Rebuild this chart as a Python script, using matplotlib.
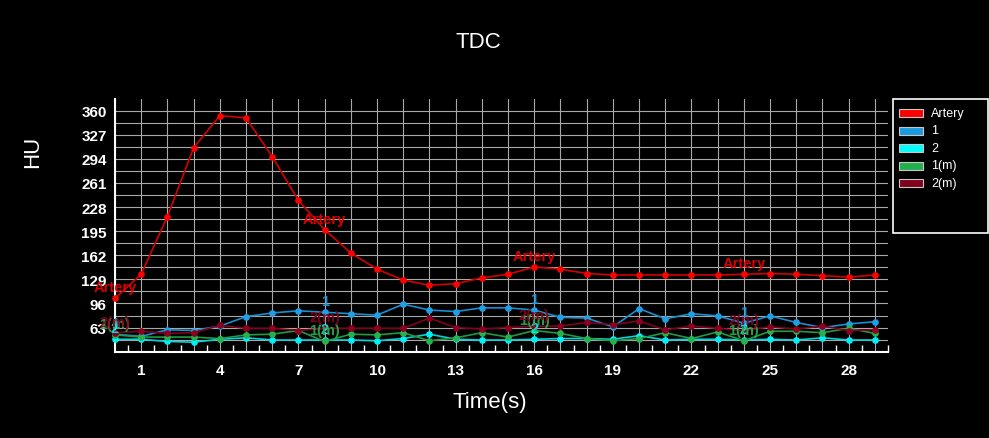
import numpy as np
import matplotlib
matplotlib.use("Agg")
import matplotlib.pyplot as plt
from matplotlib.patches import Rectangle
from matplotlib.ticker import FixedLocator, FuncFormatter

plt.rcParams['font.family'] = ['Liberation Sans', 'DejaVu Sans']

# ---- data ----
time_s = list(range(30))
series_names = ["Artery", "1", "2", "1(m)", "2(m)"]
artery = [103, 136, 215, 309, 353, 350, 297, 237, 197, 165, 143, 128, 121, 123, 131,
          136, 146, 143, 137, 135, 135, 135, 135, 135, 136, 137, 136, 134, 132, 135]
roi_1 = [54, 51, 60, 59, 65, 78, 83, 86, 84, 82, 80, 95, 87, 85, 90,
         90, 87, 77, 76, 64, 89, 75, 82, 79, 69, 79, 70, 63, 68, 71]
roi_2 = [47, 47, 44, 43, 47, 49, 46, 46, 46, 46, 45, 48, 54, 47, 46,
         46, 47, 48, 48, 47, 52, 46, 47, 47, 46, 47, 46, 49, 46, 46]
roi_1m = [53, 50, 50, 50, 48, 53, 54, 59, 44, 54, 53, 56, 45, 49, 56,
          50, 59, 55, 48, 45, 48, 56, 48, 57, 45, 58, 58, 56, 62, 55]
roi_2m = [56, 58, 55, 56, 66, 62, 62, 59, 62, 62, 62, 62, 76, 63, 61,
          63, 65, 65, 70, 67, 72, 60, 65, 62, 59, 64, 61, 65, 59, 60]
label_times = [0, 8, 16, 24]
y_tick_labels = [63, 96, 129, 162, 195, 228, 261, 294, 327, 360]
x_tick_labels = [1, 4, 7, 10, 13, 16, 19, 22, 25, 28]

all_series = [artery, roi_1, roi_2, roi_1m, roi_2m]
line_colors = ["#d40000", "#1a8fd0", "#00d4dc", "#1f9a40", "#82001c"]
marker_colors = ["#ff0000", "#1e9fe6", "#00f0f8", "#28b04c", "#8c0020"]
legend_colors = ["#ff0000", "#1a9be0", "#00ffff", "#22b04c", "#800020"]

W, H = 989, 439
fig = plt.figure(figsize=(W / 100, H / 100), dpi=100, facecolor="black")
ax = fig.add_axes([115 / W, 1 - 352.7 / H, (888 - 115) / W, (352.7 - 99.5) / H])
ax.set_facecolor("black")
ax.set_xlim(0, 29.5)
ax.set_ylim(30, 376.5)

# grid
ax.xaxis.set_major_locator(FixedLocator(np.arange(0, 30, 1)))
ax.xaxis.set_minor_locator(FixedLocator(np.arange(0.5, 30, 1)))
ax.xaxis.set_major_formatter(FuncFormatter(
    lambda v, p: str(int(round(v))) if int(round(v)) in x_tick_labels else ""))
ax.yaxis.set_major_locator(FixedLocator(np.arange(30, 361, 16.5)))
ax.yaxis.set_major_formatter(FuncFormatter(
    lambda v, p: str(int(round(v))) if abs(v - round(v)) < 1e-6 and int(round(v)) in y_tick_labels else ""))
ax.grid(True, which="major", color="#a8a8a8", linewidth=0.8)
ax.set_axisbelow(True)

ax.tick_params(axis="x", which="major", length=0, pad=8, labelcolor="white", labelsize=11)
ax.tick_params(axis="x", which="minor", length=5, direction="in", color="white", width=1)
ax.tick_params(axis="y", which="major", length=0, pad=6, labelcolor="white", labelsize=11)
for lbl in ax.get_xticklabels() + ax.get_yticklabels():
    lbl.set_fontweight("bold")

for side in ["top", "right"]:
    ax.spines[side].set_visible(False)
for side in ["left", "bottom"]:
    ax.spines[side].set_color("white")
    ax.spines[side].set_linewidth(1.5)

# series
for name, vals, lc, mc in zip(series_names, all_series, line_colors, marker_colors):
    ax.plot(time_s, vals, color=lc, linewidth=1.2, marker="o", markersize=3.8,
            markerfacecolor=mc, markeredgecolor=mc, zorder=3, clip_on=False)
    for t in label_times:
        ax.annotate(name, (time_s[t], vals[t]), xytext=(0, 11), textcoords="offset pixels",
                    ha="center", va="center", color=mc if name != "Artery" else "#f00000",
                    fontsize=10.5, fontweight="bold", annotation_clip=False, zorder=4,
                    alpha=0.9)

# texts
fig.text(478 / W, 1 - 42 / H, "TDC", color="white", fontsize=16, ha="center", va="center")
fig.text(490 / W, 1 - 403 / H, "Time(s)", color="white", fontsize=16, ha="center", va="center")
fig.text(33 / W, 1 - 152 / H, "HU", color="white", fontsize=16, ha="center", va="center",
         rotation=90)

# legend box
fig.add_artist(Rectangle((893 / W, 1 - 234 / H), (988 - 893) / W, (234 - 99.5) / H,
                         transform=fig.transFigure, facecolor="black", edgecolor="white",
                         linewidth=1.2))
for i, (name, col) in enumerate(zip(series_names, legend_colors)):
    yc = 114 + i * 17.5
    fig.add_artist(Rectangle((899 / W, 1 - (yc + 4) / H), 24 / W, 8 / H,
                             transform=fig.transFigure, facecolor=col,
                             edgecolor="#c8c8c8", linewidth=0.8))
    fig.text(931 / W, 1 - yc / H, name, color="white", fontsize=9, ha="left", va="center")

fig.savefig("out.png", dpi=100, facecolor="black")
